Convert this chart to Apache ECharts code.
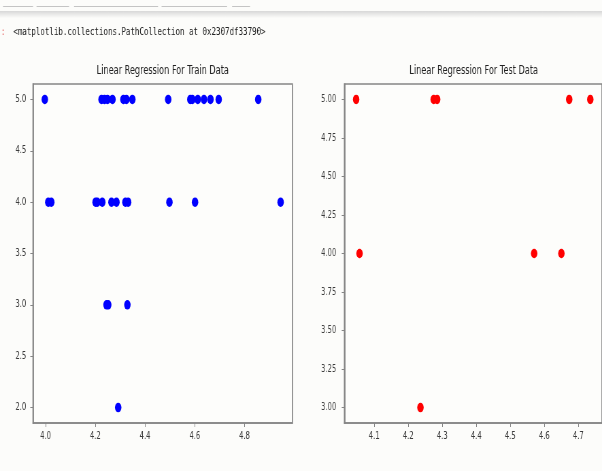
<!DOCTYPE html>
<html>
<head>
<meta charset="utf-8">
<script src="https://cdn.jsdelivr.net/npm/echarts@6/dist/echarts.min.js"></script>
<style>
  html, body { margin: 0; padding: 0; background: #fcfcfa; overflow: hidden; }
  #wrap { width: 602px; height: 471px; overflow: hidden; }
  /* the reference screenshot is squeezed sideways, so draw wider and squeeze */
  #chart { height: 471px; transform-origin: 0 0; }
</style>
</head>
<body>
<div id="wrap"><div id="chart"></div></div>
<script>
// train data (x, y)
const trainX = [3.997, 4.225, 4.237, 4.249, 4.269, 4.313, 4.325, 4.349, 4.493, 4.582, 4.590, 4.612, 4.637, 4.663, 4.696, 4.855,
                4.011, 4.023, 4.201, 4.208, 4.228, 4.265, 4.285, 4.321, 4.332, 4.498, 4.601, 4.945,
                4.245, 4.252, 4.329,
                4.292]
const trainY = [5, 5, 5, 5, 5, 5, 5, 5, 5, 5, 5, 5, 5, 5, 5, 5,
                4, 4, 4, 4, 4, 4, 4, 4, 4, 4, 4, 4,
                3, 3, 3,
                2]
// test data (x, y)
const testX = [4.047, 4.275, 4.285, 4.673, 4.735, 4.057, 4.570, 4.650, 4.236]
const testY = [5, 5, 5, 5, 5, 4, 4, 4, 3]

const trainXTicks = [4.0, 4.2, 4.4, 4.6, 4.8]
const trainYTicks = [2.0, 2.5, 3.0, 3.5, 4.0, 4.5, 5.0]
const testXTicks = [4.1, 4.2, 4.3, 4.4, 4.5, 4.6, 4.7]
const testYTicks = [3.0, 3.25, 3.5, 3.75, 4.0, 4.25, 4.5, 4.75, 5.0]

const header = '<matplotlib.collections.PathCollection at 0x2307df33790>'
const titles = ['Linear Regression For Train Data', 'Linear Regression For Test Data']

const S = 0.68
const W = Math.round(602 / S)
const px = x => x / S

const el = document.getElementById('chart')
el.style.width = W + 'px'
el.style.transform = 'scaleX(' + (602 / W) + ')'

// matplotlib style 5% margins
function pad(arr) {
  const lo = Math.min(...arr), hi = Math.max(...arr)
  const m = (hi - lo) * 0.05
  return [lo - m, hi + m]
}

const frame = '#858585'
const tickFont = { color: '#3a3a3a', fontSize: 10, fontFamily: 'DejaVu Sans' }

function xAxis(idx, data, ticks) {
  const [min, max] = pad(data)
  return {
    type: 'value', gridIndex: idx, min, max,
    axisLine: { show: true, lineStyle: { color: frame, width: 1.7 } },
    axisTick: { show: true, length: 4, customValues: ticks, lineStyle: { color: frame } },
    axisLabel: { ...tickFont, margin: 8, customValues: ticks, formatter: v => v.toFixed(1) },
    splitLine: { show: false }
  }
}

function yAxis(idx, data, ticks, digits, margin) {
  const [min, max] = pad(data)
  return {
    type: 'value', gridIndex: idx, min, max,
    axisLine: { show: true, lineStyle: { color: frame, width: 1.7 } },
    axisTick: { show: true, length: 4, customValues: ticks, lineStyle: { color: frame } },
    axisLabel: { ...tickFont, margin, customValues: ticks, formatter: v => v.toFixed(digits) },
    splitLine: { show: false }
  }
}

const dashes = [[3, 33], [36.5, 69], [74, 158], [161.5, 227], [232, 250]]

const chart = echarts.init(el, null, { renderer: 'canvas' })
chart.setOption({
  backgroundColor: '#fcfcfa',
  animation: false,
  grid: [
    { left: px(33), top: 84, width: px(259.3), height: 339, show: true, borderColor: frame, borderWidth: 1.7, backgroundColor: '#fdfdfb' },
    { left: px(344.3), top: 84, width: px(259), height: 339, show: true, borderColor: frame, borderWidth: 1.7, backgroundColor: '#fdfdfb' }
  ],
  xAxis: [xAxis(0, trainX, trainXTicks), xAxis(1, testX, testXTicks)],
  yAxis: [yAxis(0, trainY, trainYTicks, 1, 10), yAxis(1, testY, testYTicks, 2, 12)],
  series: [
    {
      type: 'scatter', xAxisIndex: 0, yAxisIndex: 0,
      symbol: 'circle', symbolSize: 9.5,
      itemStyle: { color: '#0000ff', opacity: 1 },
      data: trainX.map((x, i) => [x, trainY[i]])
    },
    {
      type: 'scatter', xAxisIndex: 1, yAxisIndex: 1,
      symbol: 'circle', symbolSize: 9.5,
      itemStyle: { color: '#ff0000', opacity: 1 },
      data: testX.map((x, i) => [x, testY[i]])
    }
  ],
  graphic: [
    {
      type: 'rect', silent: true, shape: { x: 0, y: 11, width: W, height: 7 },
      style: { fill: new echarts.graphic.LinearGradient(0, 0, 0, 1, [
        { offset: 0, color: '#d8d8d8' }, { offset: 1, color: '#fcfcfa' }
      ]) }
    },
    ...dashes.map(d => ({
      type: 'rect', silent: true,
      shape: { x: px(d[0]), y: 6, width: px(d[1] - d[0]), height: 1 },
      style: { fill: '#c4c4c4' }
    })),
    {
      type: 'text', silent: true, x: px(1), y: 32,
      style: { text: ':', font: '10px "DejaVu Sans Mono"', fill: '#e04040', verticalAlign: 'middle' }
    },
    {
      type: 'text', silent: true, x: px(13.3), y: 32,
      style: { text: header, font: '11px "DejaVu Sans Mono"', fill: '#222', verticalAlign: 'middle' }
    },
    {
      type: 'text', silent: true, x: px(162.7), y: 71,
      style: { text: titles[0], font: '12px "DejaVu Sans"', fill: '#222', align: 'center', verticalAlign: 'middle' }
    },
    {
      type: 'text', silent: true, x: px(473.5), y: 71,
      style: { text: titles[1], font: '12px "DejaVu Sans"', fill: '#222', align: 'center', verticalAlign: 'middle' }
    }
  ]
})
</script>
</body>
</html>
